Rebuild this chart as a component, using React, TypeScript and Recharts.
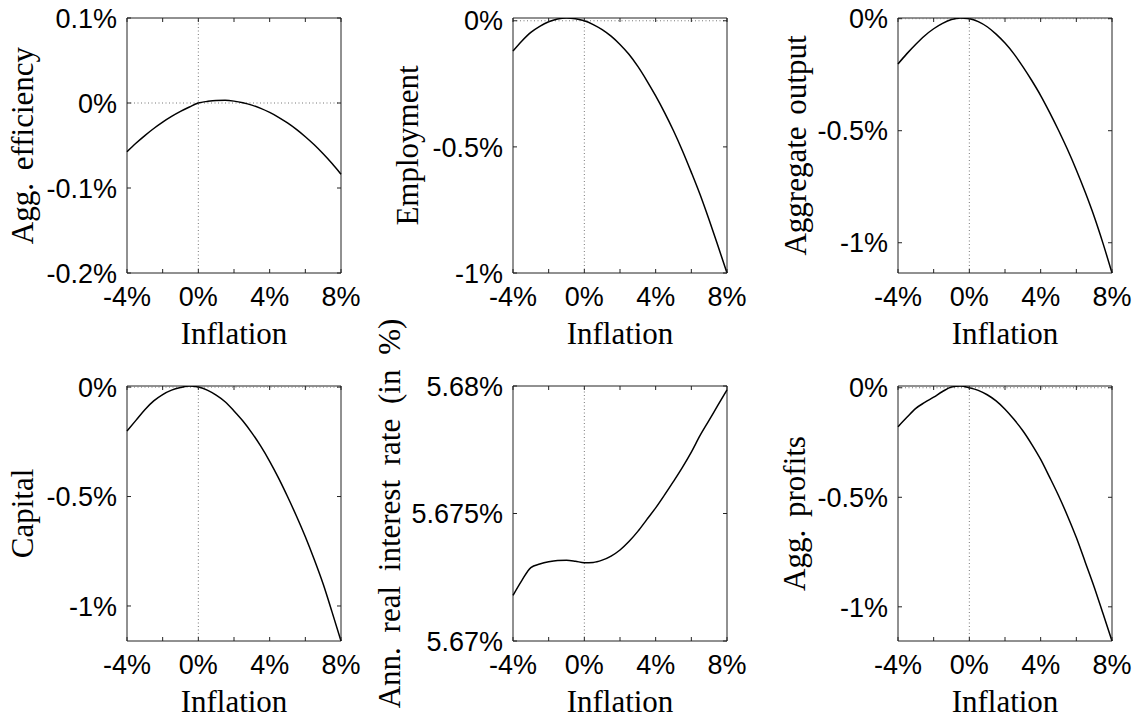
import { LineChart, Line, XAxis, YAxis, ReferenceLine, ReferenceArea } from 'recharts';

// inflation grid (%), shared by every panel
const INFLATION = [-4, -3.5, -3, -2.5, -2, -1.5, -1, -0.5, 0, 0.5, 1, 1.5, 2, 2.5, 3, 3.5, 4, 4.5, 5, 5.5, 6, 6.5, 7, 7.5, 8];
const X_TICKS = [-4, -2, 0, 2, 4, 6, 8];

// values, in % deviation (except the rate, in %)
const EFFICIENCY = [-0.0573, -0.0474, -0.0383, -0.03, -0.0225, -0.0158, -0.0099, -0.0047, 0, 0.0019, 0.003, 0.0031, 0.0022, 0.0003, -0.0025, -0.0063, -0.0111, -0.0168, -0.0235, -0.0311, -0.0397, -0.0492, -0.0598, -0.0713, -0.0838];
const EMPLOYMENT = [-0.12, -0.08, -0.046, -0.022, -0.004, 0.007, 0.011, 0.008, 0, -0.015, -0.035, -0.061, -0.094, -0.133, -0.181, -0.237, -0.298, -0.364, -0.436, -0.515, -0.601, -0.691, -0.79, -0.894, -1.0];
const OUTPUT = [-0.202, -0.156, -0.114, -0.076, -0.045, -0.021, -0.004, 0.003, 0, -0.013, -0.036, -0.069, -0.109, -0.157, -0.214, -0.276, -0.343, -0.418, -0.498, -0.583, -0.675, -0.775, -0.883, -1.004, -1.135];
const CAPITAL = [-0.201, -0.152, -0.103, -0.063, -0.034, -0.014, -0.002, 0.005, 0, -0.014, -0.037, -0.067, -0.109, -0.155, -0.209, -0.27, -0.339, -0.416, -0.5, -0.589, -0.684, -0.788, -0.9, -1.028, -1.16];
const REAL_RATE = [5.67179, 5.67238, 5.67288, 5.67302, 5.67311, 5.67316, 5.67317, 5.67313, 5.67307, 5.67308, 5.67317, 5.67333, 5.67357, 5.6739, 5.6743, 5.67476, 5.67522, 5.67573, 5.67626, 5.67681, 5.67741, 5.67807, 5.67866, 5.67926, 5.67985];
const PROFITS = [-0.178, -0.135, -0.094, -0.067, -0.043, -0.017, 0.003, 0.008, 0, -0.012, -0.032, -0.06, -0.098, -0.144, -0.196, -0.258, -0.327, -0.408, -0.492, -0.584, -0.684, -0.796, -0.909, -1.032, -1.156];

const LEVEL_TICKS = [-1, -0.5, 0];

// plot box size and chart margins (px)
const PW = 214;
const PH = 255;
const ML = 140;
const MR = 24;
const MT = 90;
const MB = 80;
const BOX_L = ML;
const BOX_T = MT;
const BOX_B = MT + PH;
const BOX_R = ML + PW;

const SANS = '"Liberation Sans", Arial, Helvetica, sans-serif';
const SERIF = '"Liberation Serif", "Times New Roman", serif';
const TICK_SIZE = 27;
const LABEL_SIZE = 31;

function fmtPct(v: number) {
  const n = +v.toFixed(3);
  return `${n === 0 ? 0 : n}%`;
}

function XTick({ x, payload }: any) {
  const v = payload.value as number;
  return (
    <g>
      <line x1={x} x2={x} y1={BOX_B} y2={BOX_B - 4} stroke="#222" />
      <line x1={x} x2={x} y1={BOX_T} y2={BOX_T + 4} stroke="#222" />
      {v % 4 === 0 && (
        <text x={x} y={BOX_B + 33} textAnchor="middle" fontFamily={SANS} fontSize={TICK_SIZE} fill="#000">
          {fmtPct(v)}
        </text>
      )}
    </g>
  );
}

function YTick({ y, payload }: any) {
  return (
    <g>
      <line x1={BOX_L} x2={BOX_L + 4} y1={y} y2={y} stroke="#222" />
      <line x1={BOX_R} x2={BOX_R - 4} y1={y} y2={y} stroke="#222" />
      <text x={BOX_L - 10} y={y} dy="0.36em" textAnchor="end" fontFamily={SANS} fontSize={TICK_SIZE} fill="#000">
        {fmtPct(payload.value)}
      </text>
    </g>
  );
}

interface PanelProps {
  left: number;
  top: number;
  values: number[];
  label: string;
  domain: [number, number];
  ticks: number[];
  labelDist: number;
  zeroLine?: boolean;
  wordSpacing?: number;
}

function Panel({ left, top, values, label, domain, ticks, labelDist, zeroLine = true, wordSpacing = 0 }: PanelProps) {
  const data = INFLATION.map((x, i) => ({ x, v: values[i] }));
  const lx = BOX_L - labelDist;
  const ly = BOX_T + PH / 2;
  return (
    <div style={{ position: 'absolute', left: left - ML, top: top - MT }}>
      <LineChart width={ML + PW + MR} height={MT + PH + MB} data={data} margin={{ top: MT, right: MR, left: 0, bottom: 0 }}>
        <XAxis
          dataKey="x"
          type="number"
          domain={[-4, 8]}
          ticks={X_TICKS}
          interval={0}
          height={MB}
          axisLine={false}
          tickLine={false}
          tick={(p: any) => <XTick {...p} />}
          label={() => (
            <text x={BOX_L + PW / 2} y={BOX_B + 71} textAnchor="middle" fontFamily={SERIF} fontSize={LABEL_SIZE} fill="#000">
              Inflation
            </text>
          )}
        />
        <YAxis
          type="number"
          domain={domain}
          allowDataOverflow
          ticks={ticks}
          interval={0}
          width={ML}
          axisLine={false}
          tickLine={false}
          tick={(p: any) => <YTick {...p} />}
          label={() => (
            <text
              x={lx}
              y={ly}
              dy="0.35em"
              transform={`rotate(-90 ${lx} ${ly})`}
              textAnchor="middle"
              fontFamily={SERIF}
              fontSize={LABEL_SIZE}
              fill="#000"
              style={{ wordSpacing }}
            >
              {label}
            </text>
          )}
        />
        {zeroLine && <ReferenceLine y={0} stroke="#777" strokeDasharray="1 2.5" />}
        <ReferenceLine x={0} stroke="#777" strokeDasharray="1 2.5" />
        <ReferenceArea x1={-4} x2={8} y1={domain[0]} y2={domain[1]} fill="none" stroke="#222" strokeWidth={1} />
        <Line type="monotone" dataKey="v" stroke="#000" strokeWidth={1.5} dot={false} isAnimationActive={false} />
      </LineChart>
    </div>
  );
}

const span = (a: number[]): [number, number] => [Math.min(...a), Math.max(...a)];

export default function App() {
  return (
    <div style={{ position: 'absolute', left: 0, top: 0, width: 1141, height: 721, background: '#fff', overflow: 'hidden' }}>
      <Panel left={127} top={18} values={EFFICIENCY} label="Agg. efficiency" domain={[-0.2, 0.1]} ticks={[-0.2, -0.1, 0, 0.1]} labelDist={105} wordSpacing={5} />
      <Panel left={513} top={18} values={EMPLOYMENT} label="Employment" domain={span(EMPLOYMENT)} ticks={LEVEL_TICKS} labelDist={106} />
      <Panel left={898} top={18} values={OUTPUT} label="Aggregate output" domain={span(OUTPUT)} ticks={LEVEL_TICKS} labelDist={103} wordSpacing={4} />
      <Panel left={127} top={386} values={CAPITAL} label="Capital" domain={span(CAPITAL)} ticks={LEVEL_TICKS} labelDist={105} />
      <Panel
        left={513}
        top={386}
        values={REAL_RATE}
        label="Ann. real interest rate (in %)"
        domain={[5.67, 5.68]}
        ticks={[5.67, 5.675, 5.68]}
        labelDist={124}
        zeroLine={false}
        wordSpacing={7}
      />
      <Panel left={898} top={386} values={PROFITS} label="Agg. profits" domain={span(PROFITS)} ticks={LEVEL_TICKS} labelDist={104} wordSpacing={5} />
    </div>
  );
}
